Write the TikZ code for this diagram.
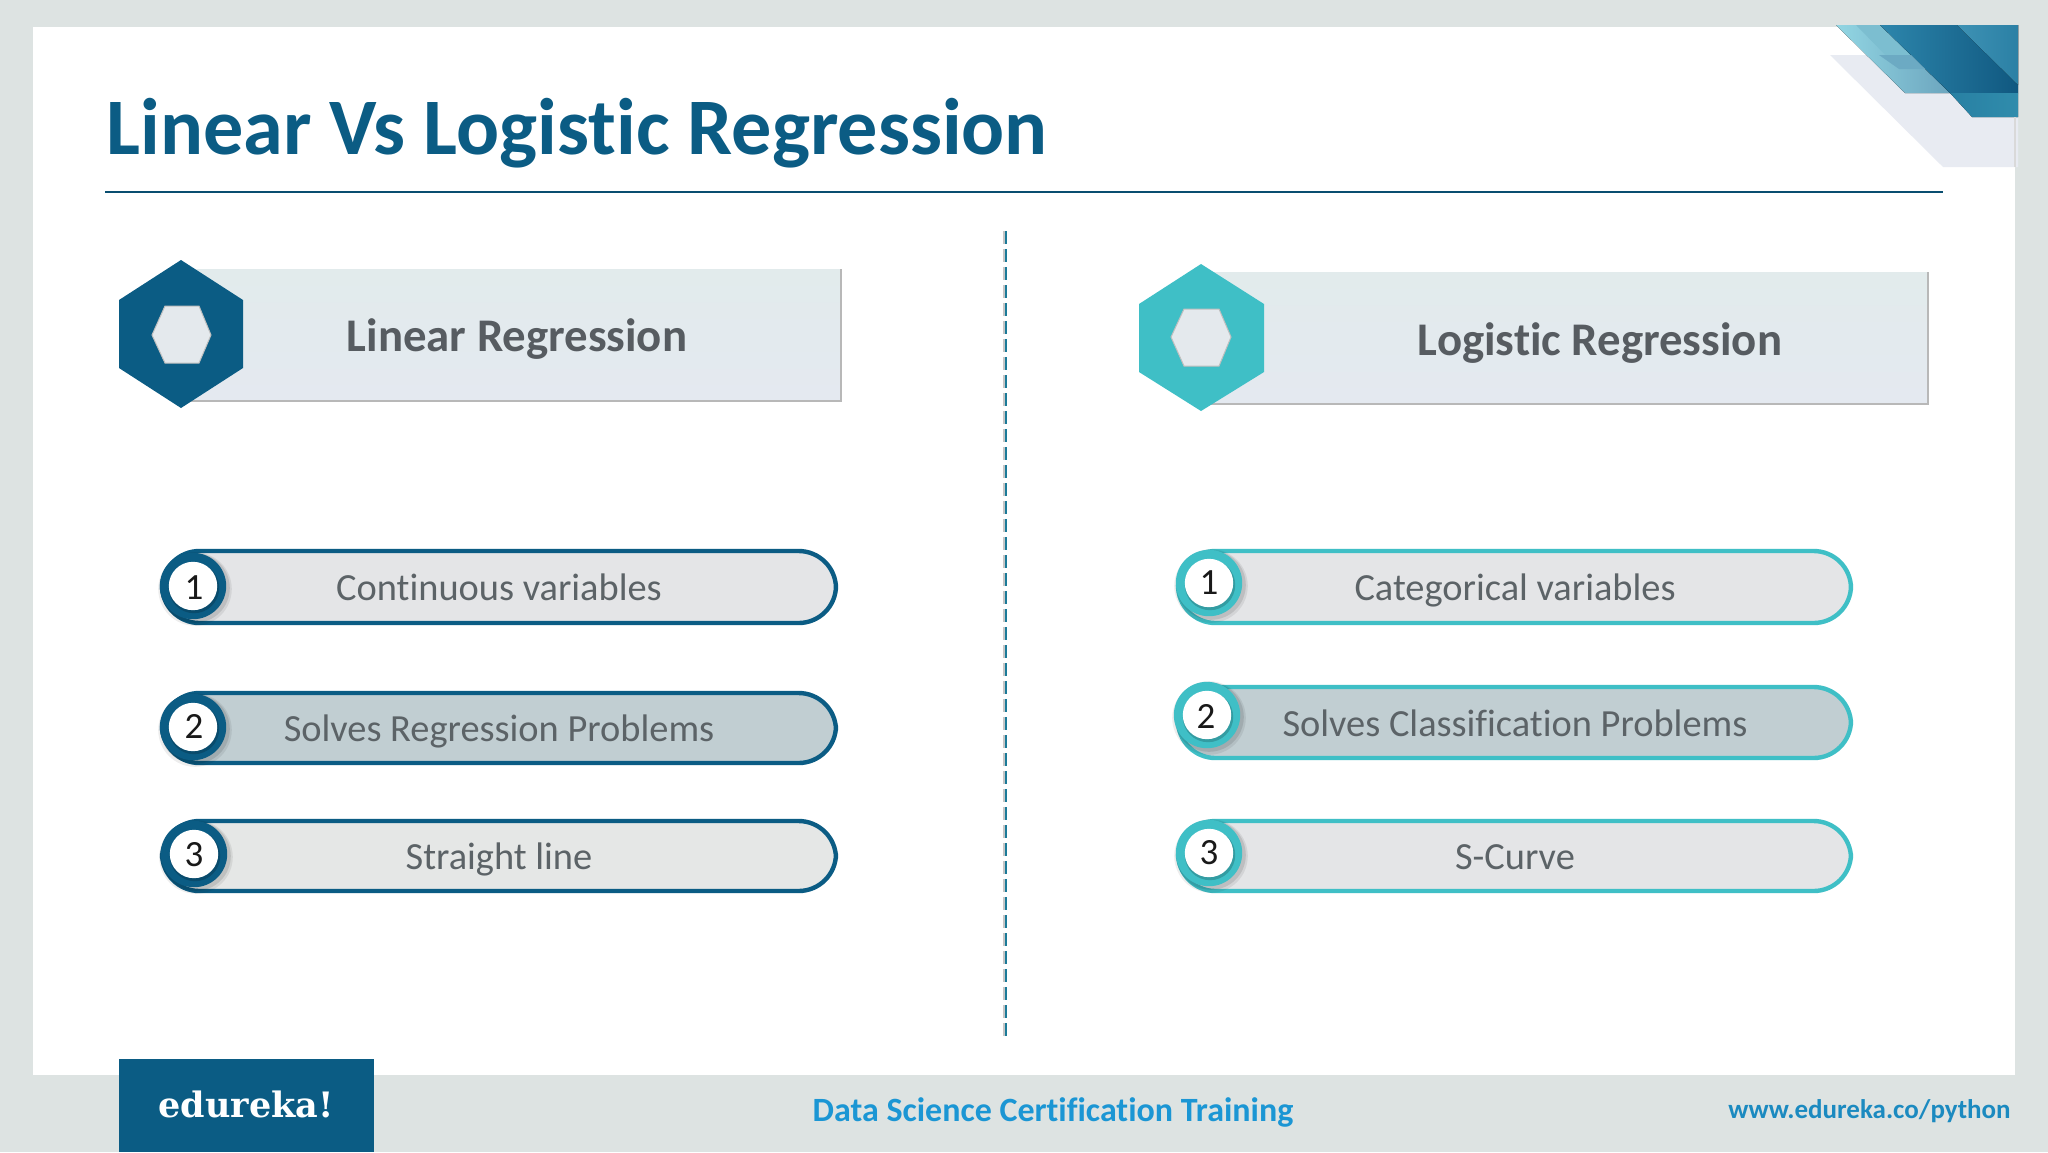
\documentclass[tikz,border=0pt]{standalone}
\usepackage{fontspec}
\setmainfont[Ligatures=NoCommon]{Carlito}
\newfontfamily\slabfont{DejaVu Serif}
\definecolor{framebg}{HTML}{DDE3E2}
\definecolor{navy}{HTML}{0B5C84}
\definecolor{teal}{HTML}{3FBFC6}
\definecolor{bodytxt}{HTML}{5C6367}
\definecolor{headtxt}{HTML}{575C61}
\definecolor{pilla}{HTML}{E4E5E7}
\definecolor{pillb}{HTML}{C1CED2}
\definecolor{pillc}{HTML}{E5E7E6}
\tikzset{
  px/.style={x=0.5pt,y=-0.5pt},
  pilltext/.style={text=bodytxt,font=\fontsize{19.2}{22}\selectfont,inner sep=0pt,anchor=base},
  headtext/.style={text=headtxt,font=\bfseries\fontsize{23.4}{26}\selectfont,inner sep=0pt,anchor=base},
  numtext/.style={text=black!90,font=\fontsize{18.5}{20}\selectfont,inner sep=0pt,anchor=base},
}
\newcommand{\mypill}[9]{%
  % name, top, bottom, left, right, fill, colour, circle cx, circle cy
  \fill[#6] (#4,#2) [rounded corners=18.7pt] rectangle (#5,#3);
  \draw[#7,line width=2.2pt,rounded corners=18.7pt] (#4,#2) rectangle (#5,#3);
  \fill[black,opacity=.07] (#8+2,#9+3) circle (18.4pt);
  \fill[black,opacity=.10] (#8+2,#9+2) circle (17.4pt);
  \fill[#7] (#8,#9) circle (16.6pt);
  \fill[black,opacity=.18] (#8+1,#9+2) circle (12.6pt);
  \fill[white] (#8,#9) circle (12.1pt);
}
\begin{document}
\begin{tikzpicture}[px]
\useasboundingbox (0,0) rectangle (2048,1152);
% frame
\fill[framebg] (0,0) rectangle (2048,1152);
\fill[white] (33,27) rectangle (2015,1075);
% corner decoration
\fill[color={rgb,255:red,232;green,235;blue,242}] (1830,55) -- (2018,55) -- (2018,167) -- (1943,167) -- cycle;
\fill[left color={rgb,255:red,146;green,214;blue,227},right color={rgb,255:red,108;green,165;blue,190}] (1836,25) -- (1880,25) -- (1950,93) -- (1905,93) -- cycle;
\fill[color={rgb,255:red,124;green,190;blue,208}] (1856,25) -- (1880,25) -- (1925,69) -- (1899,69) -- cycle;
\fill[left color={rgb,255:red,45;green,134;blue,172},right color={rgb,255:red,16;green,88;blue,128}] (1880,25) -- (2018,25) -- (2018,93) -- (1950,93) -- cycle;
\fill[left color={rgb,255:red,62;green,146;blue,180},right color={rgb,255:red,43;green,128;blue,165}] (1957,25) -- (2018,25) -- (2018,85) -- cycle;
\fill[left color={rgb,255:red,40;green,128;blue,163},right color={rgb,255:red,48;green,140;blue,172}] (1950,93) -- (2018,93) -- (2018,117) -- (1972,117) -- cycle;
\fill[color={rgb,255:red,108;green,170;blue,195}] (1879,55) -- (1911,55) -- (1925,69) -- (1899,69) -- cycle;
\draw[line width=.8pt,black!15] (2015,117) -- (2015,167);
% title
\node[anchor=base west,inner sep=0pt,text=navy,font=\bfseries\fontsize{40.1}{44}\selectfont] (title) at (106,154) {Linear Vs Logistic Regression};
\draw[navy!85!black,line width=1pt] (105,192) -- (1943,192);
% divider
\draw[black!22,line width=.8pt,dash pattern=on 6.5pt off 2.5pt] (1004,231) -- (1004,1040);
\draw[navy!70!teal,line width=.9pt,dash pattern=on 6.5pt off 2.5pt] (1006,231) -- (1006,1040);
% left banner
\fill[top color={rgb,255:red,226;green,235;blue,236},bottom color={rgb,255:red,228;green,233;blue,240}] (185,269) rectangle (841,401);
\draw[black!28,line width=.8pt] (185,401) -- (841,401) -- (841,269);
\fill[navy] (181,260) -- (243,300) -- (243,368) -- (181,408) -- (119,368) -- (119,300) -- cycle;
\fill[color={rgb,255:red,228;green,233;blue,237},draw=black!25,line width=.5pt] (165,306) -- (199,306) -- (211,335) -- (199,363) -- (165,363) -- (152,335) -- cycle;
\node[headtext] (lhead) at (517,351) {Linear Regression};
% right banner
\fill[top color={rgb,255:red,226;green,235;blue,236},bottom color={rgb,255:red,228;green,233;blue,240}] (1205,272) rectangle (1928,404);
\draw[black!28,line width=.8pt] (1205,404) -- (1928,404) -- (1928,272);
\fill[teal] (1201,264) -- (1264,304) -- (1264,372) -- (1201,411) -- (1139,372) -- (1139,304) -- cycle;
\fill[color={rgb,255:red,228;green,233;blue,237},draw=black!25,line width=.5pt] (1184,309) -- (1219,309) -- (1231,337) -- (1219,366) -- (1184,366) -- (1171,337) -- cycle;
\node[headtext] (rhead) at (1600,355) {Logistic Regression};
% left pills
\mypill{l1}{551}{623}{162}{836}{pilla}{navy}{193}{586}
\node[numtext] (ln1) at (194,599) {1};
\node[pilltext] (lt1) at (499,600.5) {Continuous variables};
\mypill{l2}{693}{763}{162}{836}{pillb}{navy}{193}{727}
\node[numtext] (ln2) at (194,738) {2};
\node[pilltext] (lt2) at (499,741.5) {Solves Regression Problems};
\mypill{l3}{821}{891}{162}{836}{pillc}{navy}{194}{854}
\node[numtext] (ln3) at (194,866) {3};
\node[pilltext] (lt3) at (499,869.5) {Straight line};
% right pills
\mypill{r1}{551}{623}{1178}{1851}{pilla}{teal}{1209}{583}
\node[numtext] (rn1) at (1209,594) {1};
\node[pilltext] (rt1) at (1515,600.5) {Categorical variables};
\mypill{r2}{687}{758}{1178}{1851}{pillb}{teal}{1207}{715}
\node[numtext] (rn2) at (1206,728) {2};
\node[pilltext] (rt2) at (1515,736) {Solves Classification Problems};
\mypill{r3}{821}{891}{1178}{1851}{pilla}{teal}{1209}{853}
\node[numtext] (rn3) at (1209,864) {3};
\node[pilltext] (rt3) at (1515,869.5) {S-Curve};
% footer
\fill[navy] (119,1059) rectangle (374,1152);
\node[anchor=base,inner sep=0pt,text=white,font=\slabfont\bfseries\fontsize{17.5}{20}\selectfont] (logo) at (246,1117) {edureka!};
\node[inner sep=0pt,anchor=base,text={rgb,255:red,27;green,150;blue,212},font=\bfseries\fontsize{17}{20}\selectfont] (course) at (1053,1121) {Data Science Certification Training};
\node[inner sep=0pt,anchor=base east,text={rgb,255:red,27;green,138;blue,192},font=\bfseries\fontsize{13.5}{16}\selectfont] (url) at (2011,1118) {www.edureka.co/python};
\end{tikzpicture}
\end{document}
